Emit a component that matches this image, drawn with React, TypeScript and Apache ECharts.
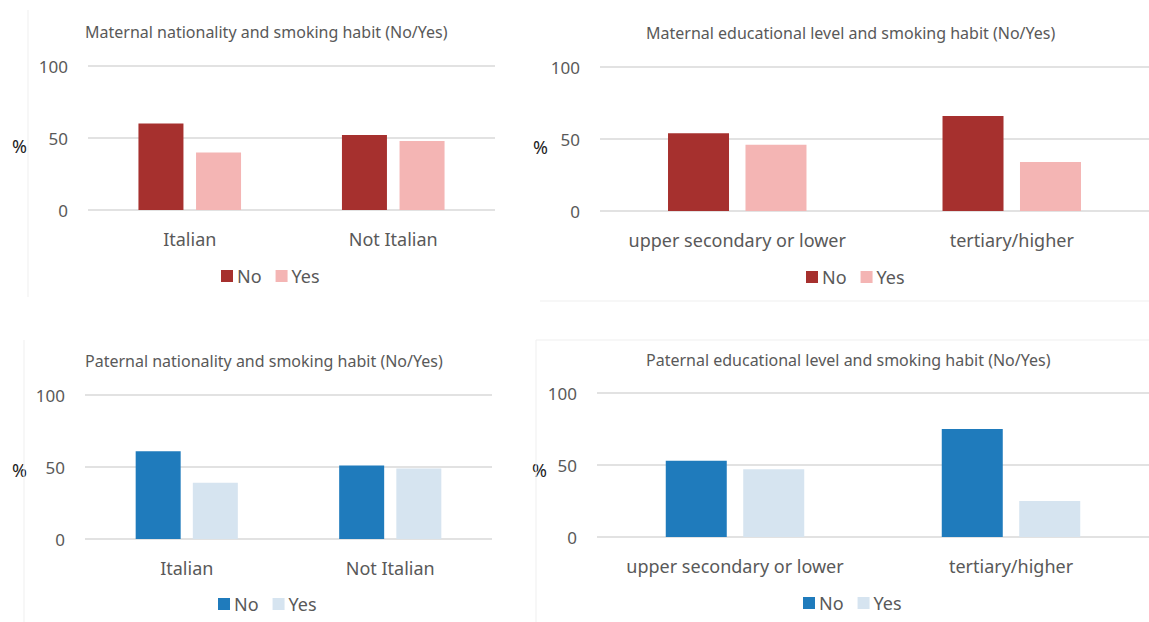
import React, { useEffect, useRef } from "react";
import * as echarts from "echarts";

const natCategories = ["Italian", "Not Italian"];
const eduCategories = ["upper secondary or lower", "tertiary/higher"];
const yTicks = { min: 0, max: 100, interval: 50 };
const seriesNames = ["No", "Yes"];

const titles = [
  "Maternal nationality and smoking habit (No/Yes)",
  "Maternal educational level and smoking habit (No/Yes)",
  "Paternal nationality and smoking habit (No/Yes)",
  "Paternal educational level and smoking habit (No/Yes)",
];

const maternalNatNo = [60, 52];
const maternalNatYes = [40, 48];
const maternalEduNo = [54, 66];
const maternalEduYes = [46, 34];
const paternalNatNo = [61, 51];
const paternalNatYes = [39, 49];
const paternalEduNo = [53, 75];
const paternalEduYes = [47, 25];

const RED = "#A6302E";
const PINK = "#F4B5B4";
const BLUE = "#1F7BBC";
const LIGHTBLUE = "#D6E4F0";
const TEXT = "#595959";
const FONT = "Noto Sans";

export default function App() {
  const ref = useRef<HTMLDivElement>(null);

  useEffect(() => {
    if (!ref.current) return;
    const chart = echarts.init(ref.current, undefined, { renderer: "svg" });

    const panels = [
      { cats: natCategories, no: maternalNatNo, yes: maternalNatYes, c: [RED, PINK],
        grid: { left: 88, top: 66, width: 407, height: 144 }, barWidth: 45, barGap: "28%",
        title: { left: 85, top: 24 }, legend: { left: 221, top: 267 }, pct: { x: 12, y: 137 } },
      { cats: eduCategories, no: maternalEduNo, yes: maternalEduYes, c: [RED, PINK],
        grid: { left: 600, top: 67, width: 549, height: 144 }, barWidth: 61, barGap: "27%",
        title: { left: 646, top: 25 }, legend: { left: 806, top: 268 }, pct: { x: 533, y: 138 } },
      { cats: natCategories, no: paternalNatNo, yes: paternalNatYes, c: [BLUE, LIGHTBLUE],
        grid: { left: 85, top: 395, width: 407, height: 144 }, barWidth: 45, barGap: "27%",
        title: { left: 85, top: 353 }, legend: { left: 218, top: 595 }, pct: { x: 12, y: 461 } },
      { cats: eduCategories, no: paternalEduNo, yes: paternalEduYes, c: [BLUE, LIGHTBLUE],
        grid: { left: 597, top: 393, width: 552, height: 144 }, barWidth: 61, barGap: "27%",
        title: { left: 646, top: 352 }, legend: { left: 803, top: 594 }, pct: { x: 532, y: 461 } },
    ];

    const faint = { stroke: "#EFEFEF", lineWidth: 1 };

    const option: any = {
      animation: false,
      textStyle: { fontFamily: FONT },
      title: panels.map((p, i) => ({
        text: titles[i],
        left: p.title.left,
        top: p.title.top,
        padding: 0,
        textStyle: { fontSize: 16, fontWeight: "normal", color: TEXT, fontFamily: FONT },
      })),
      legend: panels.map((p) => ({
        left: p.legend.left,
        top: p.legend.top,
        padding: 0,
        icon: "rect",
        itemWidth: 12,
        itemHeight: 12,
        itemGap: 14,
        textStyle: { fontSize: 18, color: TEXT, fontFamily: FONT, padding: [0, 0, 0, -1] },
        selectedMode: false,
        data: seriesNames.map((n, k) => ({ name: n, itemStyle: { color: p.c[k] } })),
      })),
      grid: panels.map((p) => ({ ...p.grid, containLabel: false })),
      xAxis: panels.map((p, i) => ({
        type: "category",
        gridIndex: i,
        data: p.cats,
        axisLine: { show: false },
        axisTick: { show: false },
        axisLabel: { fontSize: 18, color: TEXT, margin: 20, fontFamily: FONT, interval: 0 },
      })),
      yAxis: panels.map((p, i) => ({
        type: "value",
        gridIndex: i,
        min: yTicks.min,
        max: yTicks.max,
        interval: yTicks.interval,
        axisLine: { show: false },
        axisTick: { show: false },
        axisLabel: { fontSize: 17, color: TEXT, margin: 20, fontFamily: FONT },
        splitLine: { show: true, lineStyle: { color: "#D9D9D9", width: 1.5 } },
      })),
      series: panels.flatMap((p, i) => [
        { name: seriesNames[0], type: "bar", xAxisIndex: i, yAxisIndex: i, data: p.no,
          barWidth: p.barWidth, barGap: p.barGap, itemStyle: { color: p.c[0] } },
        { name: seriesNames[1], type: "bar", xAxisIndex: i, yAxisIndex: i, data: p.yes,
          barWidth: p.barWidth, barGap: p.barGap, itemStyle: { color: p.c[1] } },
      ]),
      graphic: [
        ...panels.map((p) => ({
          type: "text",
          x: p.pct.x,
          y: p.pct.y,
          style: { text: "%", fontSize: 18, fill: "#222", fontFamily: FONT },
        })),
        { type: "line", shape: { x1: 28, y1: 10, x2: 28, y2: 297 }, style: faint },
        { type: "line", shape: { x1: 540, y1: 301, x2: 1149, y2: 301 }, style: faint },
        { type: "line", shape: { x1: 536, y1: 340, x2: 1149, y2: 340 }, style: faint },
        { type: "line", shape: { x1: 536, y1: 340, x2: 536, y2: 622 }, style: faint },
        { type: "line", shape: { x1: 24, y1: 340, x2: 24, y2: 622 }, style: faint },
      ],
    };

    chart.setOption(option);
    return () => chart.dispose();
  }, []);

  return (
    <div
      ref={ref}
      style={{ position: "fixed", left: 0, top: 0, width: 1149, height: 622, background: "#fff" }}
    />
  );
}
